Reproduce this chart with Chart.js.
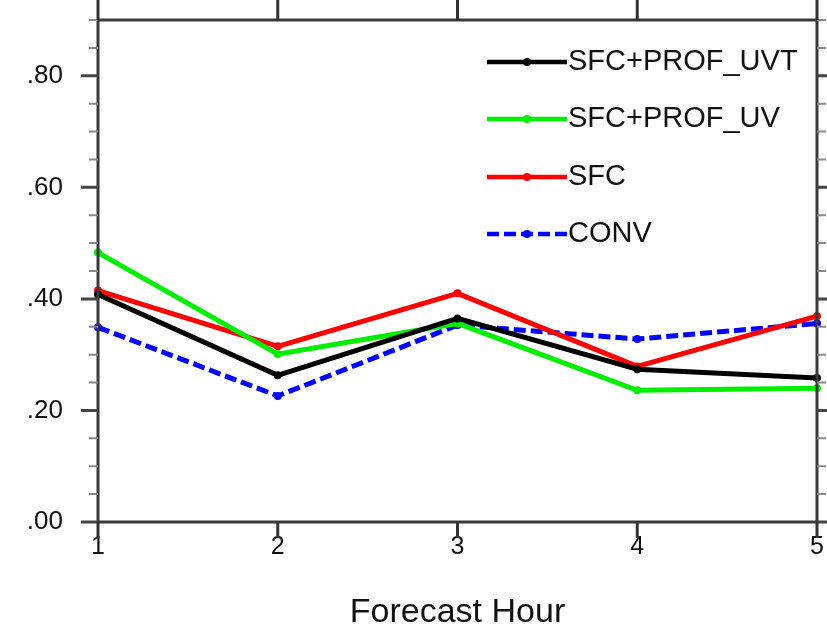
<!DOCTYPE html>
<html>
<head>
<meta charset="utf-8">
<script src="https://cdn.jsdelivr.net/npm/chart.js@4/dist/chart.umd.min.js"></script>
<style>
  html, body { margin: 0; padding: 0; background: #fff; }
  #wrap { width: 827px; height: 630px; position: relative; }
</style>
</head>
<body>
<div id="wrap"><canvas id="c" width="827" height="630"></canvas></div>
<script>
// ---- data ----
const forecastHours = [1, 2, 3, 4, 5];
const seriesNames = ["SFC+PROF_UVT", "SFC+PROF_UV", "SFC", "CONV"];
const sfcProfUVT = [0.408, 0.263, 0.365, 0.274, 0.258];
const sfcProfUV  = [0.483, 0.301, 0.356, 0.236, 0.240];
const sfc        = [0.415, 0.315, 0.410, 0.279, 0.369];
const conv       = [0.349, 0.226, 0.353, 0.328, 0.356];
const yTickLabels = [".00", ".20", ".40", ".60", ".80"];

const colors = ["#000000", "#00ee00", "#ff0000", "#0000ff"];
const dashes = [[], [], [], [12, 5]];
const allSeries = [sfcProfUVT, sfcProfUV, sfc, conv];

const FONT = "'Liberation Sans', Arial, Helvetica, sans-serif";

const datasets = allSeries.map((vals, i) => ({
  label: seriesNames[i],
  data: forecastHours.map((h, j) => ({ x: h, y: vals[j] })),
  borderColor: colors[i],
  backgroundColor: colors[i],
  borderWidth: 5,
  borderDash: dashes[i],
  pointRadius: 4,
  pointHoverRadius: 4,
  pointBorderWidth: 0,
  tension: 0,
  fill: false,
  clip: 6
}));

function noPad(s) { s.paddingTop = 0; s.paddingBottom = 0; s.paddingLeft = 0; s.paddingRight = 0; }

const framePlugin = {
  id: 'frame',
  afterDraw(chart) {
    const ctx = chart.ctx;
    const xs = chart.scales.x, ys = chart.scales.y;
    const L = xs.left, R = xs.right, T = ys.top, B = ys.bottom;
    ctx.save();
    ctx.strokeStyle = '#3a3a3a';
    ctx.lineCap = 'butt';
    ctx.lineWidth = 3;
    ctx.beginPath();
    ctx.moveTo(L, T); ctx.lineTo(R, T);
    ctx.moveTo(L, B); ctx.lineTo(R, B);
    ctx.moveTo(L, T); ctx.lineTo(L, B);
    ctx.moveTo(R, T); ctx.lineTo(R, B);
    ctx.stroke();
    ys.ticks.forEach(t => {
      const v = t.value;
      const major = Math.abs(v / 0.2 - Math.round(v / 0.2)) < 1e-6;
      const py = ys.getPixelForValue(v);
      const len = major ? 17 : 9;
      ctx.lineWidth = major ? 3 : 2;
      ctx.strokeStyle = major ? '#444' : '#888';
      ctx.beginPath();
      ctx.moveTo(L, py); ctx.lineTo(L - len, py);
      ctx.moveTo(R, py); ctx.lineTo(R + len, py);
      ctx.stroke();
    });
    ctx.strokeStyle = '#333';
    ctx.lineWidth = 3;
    xs.ticks.forEach(t => {
      const px = xs.getPixelForValue(t.value);
      ctx.beginPath();
      ctx.moveTo(px, B); ctx.lineTo(px, B + 16);
      ctx.moveTo(px, T); ctx.lineTo(px, T - 20);
      ctx.stroke();
    });
    const rows = [62, 119, 177, 234];
    const x0 = 487, x1 = 567;
    chart.data.datasets.forEach((ds, i) => {
      const y = rows[i];
      ctx.strokeStyle = ds.borderColor;
      ctx.lineWidth = 4.5;
      ctx.setLineDash(ds.borderDash || []);
      ctx.beginPath();
      ctx.moveTo(x0, y); ctx.lineTo(x1, y);
      ctx.stroke();
      ctx.setLineDash([]);
      ctx.fillStyle = ds.backgroundColor;
      ctx.beginPath();
      ctx.arc((x0 + x1) / 2, y, 4, 0, Math.PI * 2);
      ctx.fill();
      ctx.fillStyle = '#111';
      ctx.font = '29px ' + FONT;
      ctx.textBaseline = 'middle';
      ctx.textAlign = 'left';
      ctx.fillText(ds.label, x1 + 1, y);
    });
    ctx.restore();
  }
};

new Chart(document.getElementById('c'), {
  type: 'line',
  data: { datasets },
  options: {
    responsive: false,
    animation: false,
    events: [],
    layout: { padding: { top: 20, right: 10, left: 0, bottom: 0 } },
    plugins: { legend: { display: false }, tooltip: { enabled: false }, title: { display: false } },
    scales: {
      x: {
        type: 'linear',
        min: 1, max: 5,
        afterFit(s) { s.height = 108; noPad(s); },
        grid: { display: false, drawTicks: false },
        border: { display: false },
        ticks: {
          stepSize: 1,
          font: { family: FONT, size: 25 },
          color: '#111',
          padding: 10,
          callback: v => String(v)
        },
        title: {
          display: true,
          text: 'Forecast Hour',
          font: { family: FONT, size: 34, lineHeight: 1.0 },
          color: '#111',
          padding: { top: 0, bottom: 0 }
        }
      },
      y: {
        min: 0, max: 0.9,
        afterFit(s) { s.width = 98; noPad(s); },
        grid: { display: false, drawTicks: false },
        border: { display: false },
        ticks: {
          stepSize: 0.05,
          autoSkip: false,
          font: { family: FONT, size: 26 },
          color: '#111',
          padding: 35,
          callback: function (v) {
            const k = v / 0.2;
            if (Math.abs(k - Math.round(k)) < 1e-6) {
              const idx = Math.round(k);
              return yTickLabels[idx] !== undefined ? yTickLabels[idx] : '';
            }
            return '';
          }
        }
      }
    }
  },
  plugins: [framePlugin]
});
</script>
</body>
</html>
